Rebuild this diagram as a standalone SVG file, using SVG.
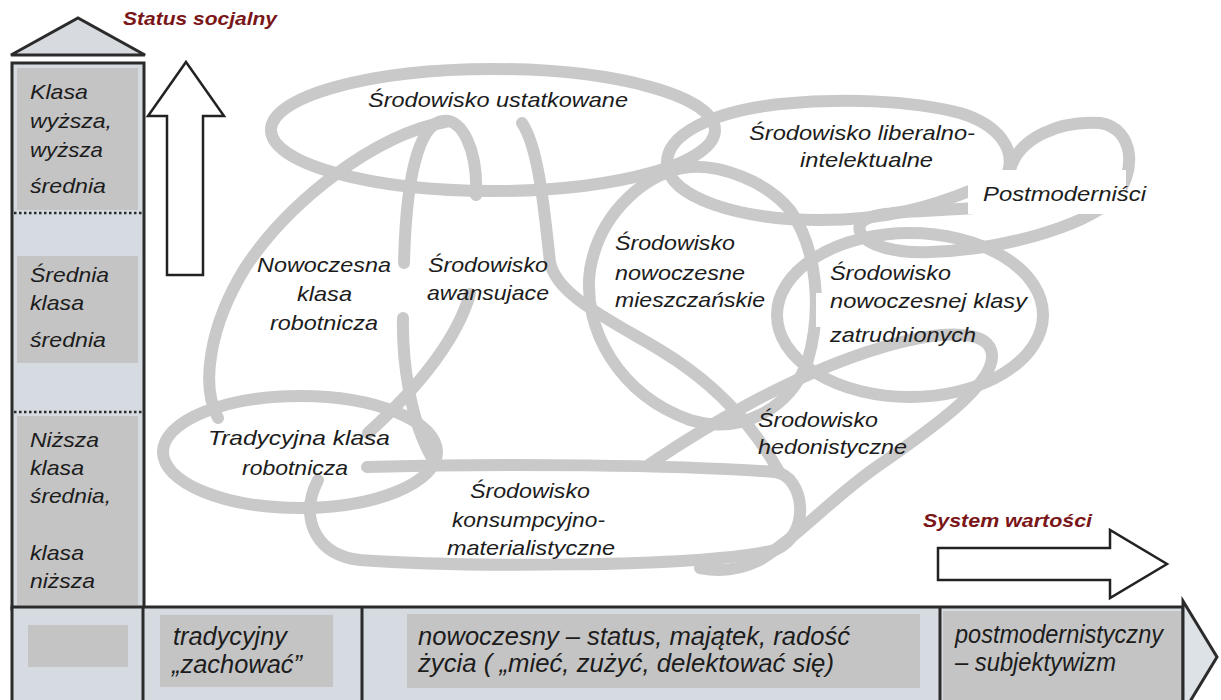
<svg xmlns="http://www.w3.org/2000/svg" width="1221" height="700" viewBox="0 0 1221 700">
  <style>
    .loop { fill: none; stroke: #c9c9c9; stroke-width: 12; stroke-linecap: round; stroke-linejoin: round; }
    .mask { fill: #ffffff; }
    .t { font-family: "Liberation Sans", Arial, sans-serif; font-style: italic; font-size: 21px; fill: #1c1c1c; }
    .bt { font-family: "Liberation Sans", Arial, sans-serif; font-style: italic; font-size: 25px; fill: #1c1c1c; }
    .axis { font-family: "Liberation Sans", Arial, sans-serif; font-style: italic; font-weight: bold; font-size: 18px; fill: #7a1518; }
    .frame { stroke: #2b2b2b; stroke-width: 3; }
    .band { fill: #d5dbe1; }
    .cell { fill: #c4c4c4; }
    .dots { stroke: #2b2b2b; stroke-width: 2.5; stroke-dasharray: 2.5 2.5; }
    .hollow { fill: #ffffff; stroke: #222222; stroke-width: 2.5; stroke-linejoin: miter; }
  </style>

  <rect width="1221" height="700" fill="#ffffff"/>

  <!-- vertical axis: social status column -->
  <g id="status-column">
    <polygon points="11,55 78,18 145,55" fill="#d7dbe0" class="frame" stroke-linejoin="miter"/>
    <rect x="12" y="63" width="132" height="546" class="band frame"/>
    <rect x="17" y="68" width="121" height="142" class="cell"/>
    <rect x="17" y="256" width="121" height="107" class="cell"/>
    <rect x="17" y="416" width="121" height="189" class="cell"/>
    <line x1="14" y1="213" x2="142" y2="213" class="dots"/>
    <line x1="14" y1="412" x2="142" y2="412" class="dots"/>
    <text class="t" x="30" y="99" textLength="58" lengthAdjust="spacingAndGlyphs">Klasa</text>
    <text class="t" x="30" y="128" textLength="82" lengthAdjust="spacingAndGlyphs">wyższa,</text>
    <text class="t" x="30" y="157" textLength="73" lengthAdjust="spacingAndGlyphs">wyższa</text>
    <text class="t" x="30" y="193" textLength="76" lengthAdjust="spacingAndGlyphs">średnia</text>
    <text class="t" x="30" y="282" textLength="79" lengthAdjust="spacingAndGlyphs">Średnia</text>
    <text class="t" x="30" y="310" textLength="54" lengthAdjust="spacingAndGlyphs">klasa</text>
    <text class="t" x="30" y="347" textLength="76" lengthAdjust="spacingAndGlyphs">średnia</text>
    <text class="t" x="30" y="447" textLength="69" lengthAdjust="spacingAndGlyphs">Niższa</text>
    <text class="t" x="30" y="475" textLength="54" lengthAdjust="spacingAndGlyphs">klasa</text>
    <text class="t" x="30" y="503" textLength="81" lengthAdjust="spacingAndGlyphs">średnia,</text>
    <text class="t" x="30" y="560" textLength="54" lengthAdjust="spacingAndGlyphs">klasa</text>
    <text class="t" x="30" y="588" textLength="65" lengthAdjust="spacingAndGlyphs">niższa</text>
  </g>

  <!-- horizontal axis: value system bar -->
  <g id="value-bar">
    <rect x="12" y="607" width="1171" height="100" class="band frame"/>
    <polygon points="1183,601 1217,657 1183,713" fill="#dde2e7" class="frame" stroke-linejoin="miter"/>
    <rect x="28" y="625" width="100" height="42" class="cell"/>
    <rect x="160" y="615" width="173" height="72" class="cell"/>
    <rect x="407" y="614" width="513" height="74" class="cell"/>
    <rect x="943" y="611" width="238" height="92" class="cell"/>
    <line x1="143" y1="607" x2="143" y2="700" class="frame"/>
    <line x1="362" y1="607" x2="362" y2="700" class="frame"/>
    <line x1="940" y1="607" x2="940" y2="700" class="frame"/>
    <text class="bt" x="173" y="645" textLength="114" lengthAdjust="spacingAndGlyphs">tradycyjny</text>
    <text class="bt" x="172" y="673" textLength="130" lengthAdjust="spacingAndGlyphs">„zachować”</text>
    <text class="bt" x="418" y="645" textLength="432" lengthAdjust="spacingAndGlyphs">nowoczesny – status, majątek, radość</text>
    <text class="bt" x="418" y="672" textLength="416" lengthAdjust="spacingAndGlyphs">życia ( „mieć, zużyć, delektować się)</text>
    <text class="bt" x="955" y="643" textLength="208" lengthAdjust="spacingAndGlyphs">postmodernistyczny</text>
    <text class="bt" x="955" y="671" textLength="161" lengthAdjust="spacingAndGlyphs">– subjektywizm</text>
  </g>

  <!-- axis titles and hollow arrows -->
  <g id="axis-status">
    <text class="axis" x="123" y="25" textLength="154" lengthAdjust="spacingAndGlyphs">Status socjalny</text>
    <polygon class="hollow" points="186,62 224,116 203,116 203,275 167,275 167,116 148,116"/>
  </g>
  <g id="axis-values">
    <text class="axis" x="923" y="527" textLength="169" lengthAdjust="spacingAndGlyphs">System wartości</text>
    <polygon class="hollow" points="938,548 1110,548 1110,530 1167,564 1110,598 1110,580 938,580"/>
  </g>

  <!-- milieu outlines -->
  <g id="connectors">
    <ellipse class="loop" cx="493" cy="130" rx="222" ry="61"/>
    <path class="loop" d="M1008 172 C1015 150 1000 125 960 113 C910 100 840 98 780 104 C710 112 665 135 667 165 C670 198 740 220 820 220 C890 220 935 205 972 190"/>
    <path class="loop" d="M1010 170 C1018 138 1060 120 1100 123 C1135 128 1138 175 1112 200 C1080 228 1000 250 930 252 C885 254 855 240 860 225 C866 210 920 212 975 208"/>
    <ellipse class="loop" cx="910" cy="315" rx="133" ry="82"/>
    <path class="loop" d="M690 167 C650 170 600 210 590 270 C582 330 620 395 690 420 C740 435 790 410 808 360 C822 310 818 250 790 210 C765 180 720 165 690 167 Z"/>
    <path class="loop" d="M522 123 C540 150 545 220 550 262 C556 295 610 320 660 350 C710 380 750 420 778 470"/>
    <path class="loop" d="M650 464 C700 430 790 375 880 348 C940 330 990 328 992 355 C994 385 930 430 875 468 C830 500 800 535 760 560 C740 570 720 572 700 568"/>
    <path class="loop" d="M445 122 C375 135 290 200 245 268 C210 325 200 385 218 418"/>
    <path class="loop" d="M476 195 C478 150 462 118 443 121 C418 124 406 180 404 263 M403 318 C402 360 410 420 432 458"/>
    <path class="loop" d="M470 294 C455 345 410 395 368 433"/>
    <ellipse class="loop" cx="300" cy="452" rx="137" ry="56"/>
    <path class="loop" d="M367 467 C500 463 680 465 775 472 C805 476 812 535 775 550 C700 568 450 567 360 560 C315 555 305 520 312 495 C314 488 316 484 318 480"/>
  </g>

  <!-- milieu labels -->
  <g id="milieu-ustatkowane">
    <text class="t" x="368" y="107" textLength="260" lengthAdjust="spacingAndGlyphs">Środowisko ustatkowane</text>
  </g>
  <g id="milieu-liberalne">
    <text class="t" x="749" y="140" textLength="226" lengthAdjust="spacingAndGlyphs">Środowisko liberalno-</text>
    <text class="t" x="800" y="167" textLength="133" lengthAdjust="spacingAndGlyphs">intelektualne</text>
  </g>
  <g id="milieu-postmodernisci">
    <rect class="mask" x="968" y="170" width="158" height="44"/>
    <text class="t" x="983" y="201" textLength="163" lengthAdjust="spacingAndGlyphs">Postmoderniści</text>
  </g>
  <g id="milieu-nowoczesna-robotnicza">
    <text class="t" x="257" y="272" textLength="134" lengthAdjust="spacingAndGlyphs">Nowoczesna</text>
    <text class="t" x="297" y="301" textLength="55" lengthAdjust="spacingAndGlyphs">klasa</text>
    <text class="t" x="270" y="330" textLength="108" lengthAdjust="spacingAndGlyphs">robotnicza</text>
  </g>
  <g id="milieu-awansujace">
    <text class="t" x="428" y="272" textLength="120" lengthAdjust="spacingAndGlyphs">Środowisko</text>
    <text class="t" x="427" y="300" textLength="122" lengthAdjust="spacingAndGlyphs">awansujace</text>
  </g>
  <g id="milieu-mieszczanskie">
    <text class="t" x="615" y="250" textLength="120" lengthAdjust="spacingAndGlyphs">Środowisko</text>
    <text class="t" x="615" y="280" textLength="130" lengthAdjust="spacingAndGlyphs">nowoczesne</text>
    <text class="t" x="615" y="307" textLength="150" lengthAdjust="spacingAndGlyphs">mieszczańskie</text>
  </g>
  <g id="milieu-zatrudnionych">
    <rect class="mask" x="816" y="293" width="174" height="34"/>
    <text class="t" x="830" y="280" textLength="121" lengthAdjust="spacingAndGlyphs">Środowisko</text>
    <text class="t" x="830" y="308" textLength="197" lengthAdjust="spacingAndGlyphs">nowoczesnej klasy</text>
    <text class="t" x="830" y="342" textLength="146" lengthAdjust="spacingAndGlyphs">zatrudnionych</text>
  </g>
  <g id="milieu-hedonistyczne">
    <text class="t" x="758" y="427" textLength="120" lengthAdjust="spacingAndGlyphs">Środowisko</text>
    <text class="t" x="758" y="454" textLength="149" lengthAdjust="spacingAndGlyphs">hedonistyczne</text>
  </g>
  <g id="milieu-tradycyjna-robotnicza">
    <text class="t" x="208" y="445" textLength="182" lengthAdjust="spacingAndGlyphs">Tradycyjna klasa</text>
    <text class="t" x="242" y="475" textLength="106" lengthAdjust="spacingAndGlyphs">robotnicza</text>
  </g>
  <g id="milieu-konsumpcyjne">
    <text class="t" x="470" y="498" textLength="120" lengthAdjust="spacingAndGlyphs">Środowisko</text>
    <text class="t" x="452" y="527" textLength="153" lengthAdjust="spacingAndGlyphs">konsumpcyjno-</text>
    <text class="t" x="447" y="555" textLength="168" lengthAdjust="spacingAndGlyphs">materialistyczne</text>
  </g>
</svg>
